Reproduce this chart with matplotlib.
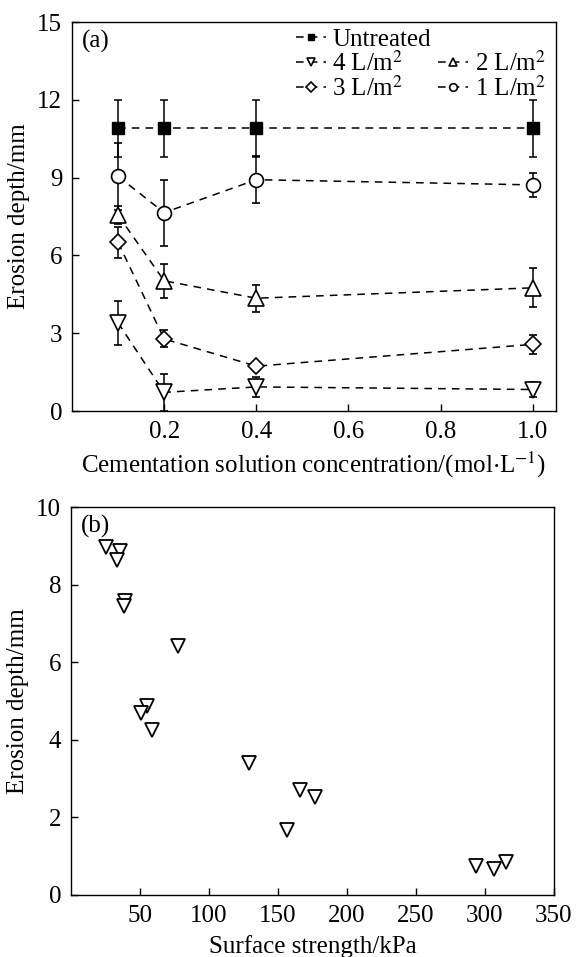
import matplotlib
matplotlib.use("Agg")
import matplotlib.pyplot as plt
from matplotlib.lines import Line2D

plt.rcParams['font.family'] = ['Liberation Serif', 'DejaVu Serif']
plt.rcParams['mathtext.fontset'] = 'stix'
plt.rcParams['font.size'] = 18

# ---- panel (a) data ----
conc = [0.1, 0.2, 0.4, 1.0]
untreated = [10.9, 10.9, 10.9, 10.9]
untreated_err = [1.1, 1.1, 1.1, 1.1]
l1 = [9.05, 7.65, 8.92, 8.72]
l1_err = [1.3, 1.27, 0.9, 0.45]
l2 = [7.55, 5.02, 4.35, 4.75]
l2_err = [0.35, 0.65, 0.52, 0.75]
l3 = [6.5, 2.78, 1.73, 2.57]
l3_err = [0.6, 0.33, 0.15, 0.37]
l4 = [3.4, 0.72, 0.93, 0.83]
l4_err = [0.85, 0.7, 0.4, 0.3]
labels_a = ['Untreated', r'4 L/m$^2$', r'2 L/m$^2$', r'3 L/m$^2$', r'1 L/m$^2$']
xticks_a = [0.2, 0.4, 0.6, 0.8, 1.0]
yticks_a = [0, 3, 6, 9, 12, 15]

# ---- panel (b) data ----
strength = [25.3, 35.4, 33.6, 39.4, 38.4, 77.3, 54.9, 50.9, 58.9,
            129.3, 166.3, 176.7, 156.7, 293.4, 307.0, 315.6]
depth = [8.96, 8.87, 8.63, 7.59, 7.46, 6.42, 4.86, 4.68, 4.24,
         3.40, 2.71, 2.53, 1.68, 0.74, 0.66, 0.84]
xticks_b = [50, 100, 150, 200, 250, 300, 350]
yticks_b = [0, 2, 4, 6, 8, 10]

fig = plt.figure(figsize=(5.76, 9.57), dpi=100)
ax1 = fig.add_axes([0.125, 0.5705, 0.840, 0.4065])
ax2 = fig.add_axes([0.123, 0.0648, 0.8385, 0.4054])

dash = (0, (5, 4))
common = dict(color='black', lw=1.1, linestyle=dash, ecolor='black',
              elinewidth=1.1, capsize=3, capthick=1.1)

h_un = ax1.errorbar(conc, untreated, yerr=untreated_err, marker='s', ms=8.5,
                    mfc='black', mec='black', **common)
h4 = ax1.errorbar(conc, l4, yerr=l4_err, marker='v', ms=11,
                  mfc='white', mec='black', mew=1.2, **common)
h2 = ax1.errorbar(conc, l2, yerr=l2_err, marker='^', ms=11,
                  mfc='white', mec='black', mew=1.2, **common)
h3 = ax1.errorbar(conc, l3, yerr=l3_err, marker='D', ms=8.5,
                  mfc='white', mec='black', mew=1.2, **common)
h1 = ax1.errorbar(conc, l1, yerr=l1_err, marker='o', ms=10,
                  mfc='white', mec='black', mew=1.2, **common)

ax1.set_xlim(0, 1.05)
ax1.set_ylim(0, 15)
ax1.set_xticks(xticks_a)
ax1.set_xticklabels(['%.1f' % v for v in xticks_a])
ax1.set_yticks(yticks_a)
ax1.set_xlabel(r'Cementation solution concentration/(mol$\cdot$L$^{-1}$)', labelpad=5)
ax1.set_ylabel('Erosion depth/mm', labelpad=5)
ax1.text(0.02, 0.98, '(a)', transform=ax1.transAxes, ha='left', va='top')

blank = Line2D([], [], linestyle='none', marker='none')
handles = [h_un[0], h4[0], h3[0], blank, h2[0], h1[0]]
labs = [labels_a[0], labels_a[1], labels_a[3], '', labels_a[2], labels_a[4]]
leg = ax1.legend(handles, labs, ncol=2, loc='upper right', frameon=False,
                 handlelength=1.2, handletextpad=0.25, columnspacing=0.3,
                 labelspacing=0.0, markerscale=0.55, borderaxespad=0.0,
                 bbox_to_anchor=(1.0, 1.01))

ax2.plot(strength, depth, linestyle='none', marker='v', ms=10,
         mfc='white', mec='black', mew=1.3)
ax2.set_xlim(0, 350)
ax2.set_ylim(0, 10)
ax2.set_xticks(xticks_b)
ax2.set_yticks(yticks_b)
ax2.set_xlabel('Surface strength/kPa', labelpad=6)
ax2.set_ylabel('Erosion depth/mm', labelpad=5)
ax2.text(0.02, 0.98, '(b)', transform=ax2.transAxes, ha='left', va='top')

for ax in (ax1, ax2):
    ax.tick_params(direction='in', length=5, width=1, pad=7,
                   top=False, right=False)
    for s in ax.spines.values():
        s.set_linewidth(1.0)

fig.savefig('out.png', dpi=100)
